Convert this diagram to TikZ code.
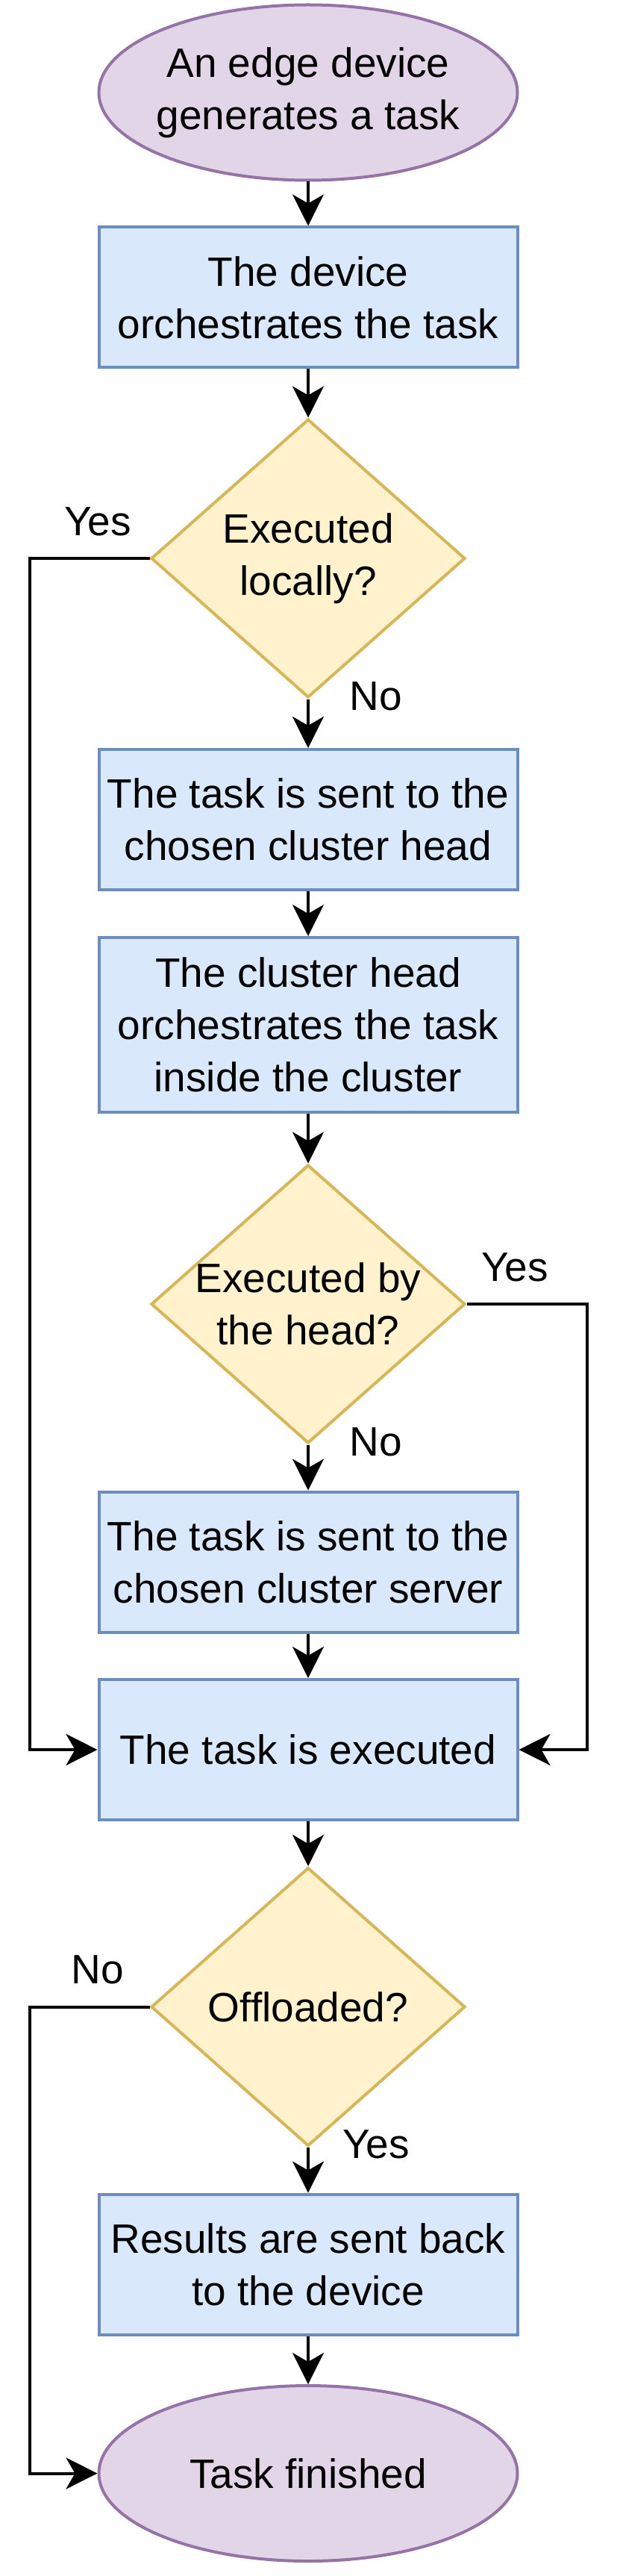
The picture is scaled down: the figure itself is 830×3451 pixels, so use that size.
\documentclass[tikz,border=0pt]{standalone}
\usepackage{fontspec}
\setmainfont{Liberation Sans}
\usetikzlibrary{arrows.meta,shapes.geometric}

\definecolor{termfill}{HTML}{E1D5E7}
\definecolor{termline}{HTML}{9673A6}
\definecolor{stepfill}{HTML}{DAE8FC}
\definecolor{stepline}{HTML}{6C8EBF}
\definecolor{askfill}{HTML}{FFF2CC}
\definecolor{askline}{HTML}{D6B656}

\tikzset{
  terminal/.style={ellipse, draw=termline, fill=termfill, line width=2pt,
    minimum width=280.5pt, minimum height=117.5pt, inner xsep=-6pt, align=center},
  stepbox/.style={rectangle, draw=stepline, fill=stepfill, line width=2pt,
    minimum width=280.5pt, minimum height=94pt, inner sep=2pt, align=center},
  decision/.style={diamond, draw=askline, fill=askfill, line width=2pt,
    minimum width=210.5pt, minimum height=186.5pt, inner sep=0pt},
  asktext/.style={align=center},
  flow/.style={line width=2pt, -{Stealth[length=21pt,width=21pt,inset=6pt]}},
}

\begin{document}
\begin{tikzpicture}[x=0.5pt, y=-0.5pt, font=\fontsize{27.5}{35}\selectfont]

    \useasboundingbox (0,0) rectangle (830,3451);

    % 1. Start
    \node[terminal] (start) at (413,124) {An edge device\\generates a task};

    % 2. Device side
    \node[stepbox] (orch) at (413,398.5) {The device\\orchestrates the task};
    \node[decision, label={[asktext]center:Executed\\locally?}] (local) at (413,748) {};

    % 3. Cluster head side
    \node[stepbox] (sendhead) at (413,1098) {The task is sent to the\\chosen cluster head};
    \node[stepbox, minimum height=117pt] (headorch) at (413,1373) {The cluster head\\orchestrates the task\\inside the cluster};
    \node[decision, label={[asktext]center:Executed by\\the head?}] (byhead) at (413,1747) {};

    % 4. Cluster server side
    \node[stepbox] (sendserver) at (413,2092.5) {The task is sent to the\\chosen cluster server};
    \node[stepbox] (exec) at (413,2344) {The task is executed};

    % 5. Back to the device
    \node[decision, label={[asktext]center:Offloaded?}] (offl) at (413,2688.5) {};
    \node[stepbox] (results) at (413,3033.5) {Results are sent back\\to the device};
    \node[terminal] (finish) at (413,3313.5) {Task finished};

    % 6. Straight arrows
    \draw[flow] (start) -- (orch);
    \draw[flow] (orch) -- (local);
    \draw[flow] (local) -- (sendhead);
    \draw[flow] (sendhead) -- (headorch);
    \draw[flow] (headorch) -- (byhead);
    \draw[flow] (byhead) -- (sendserver);
    \draw[flow] (sendserver) -- (exec);
    \draw[flow] (exec) -- (offl);
    \draw[flow] (offl) -- (results);
    \draw[flow] (results) -- (finish);

    % 7. Side branches
    \coordinate (leftrail) at (40,0);
    \coordinate (rightrail) at (787,0);
    \draw[flow] (local.west) -- (local.west -| leftrail) |- (exec.west);
    \draw[flow] (byhead.east) -- (byhead.east -| rightrail) |- (exec.east);
    \draw[flow] (offl.west) -- (offl.west -| leftrail) |- (finish.west);

    % 8. Branch labels
    \node[anchor=base] (yes1) at (131,717) {Yes};
    \node[anchor=base] (no1) at (504,951) {No};
    \node[anchor=base] (yes2) at (690,1716) {Yes};
    \node[anchor=base] (no2) at (504,1950) {No};
    \node[anchor=base] (no3) at (131,2657) {No};
    \node[anchor=base] (yes3) at (504,2891) {Yes};

\end{tikzpicture}
\end{document}
